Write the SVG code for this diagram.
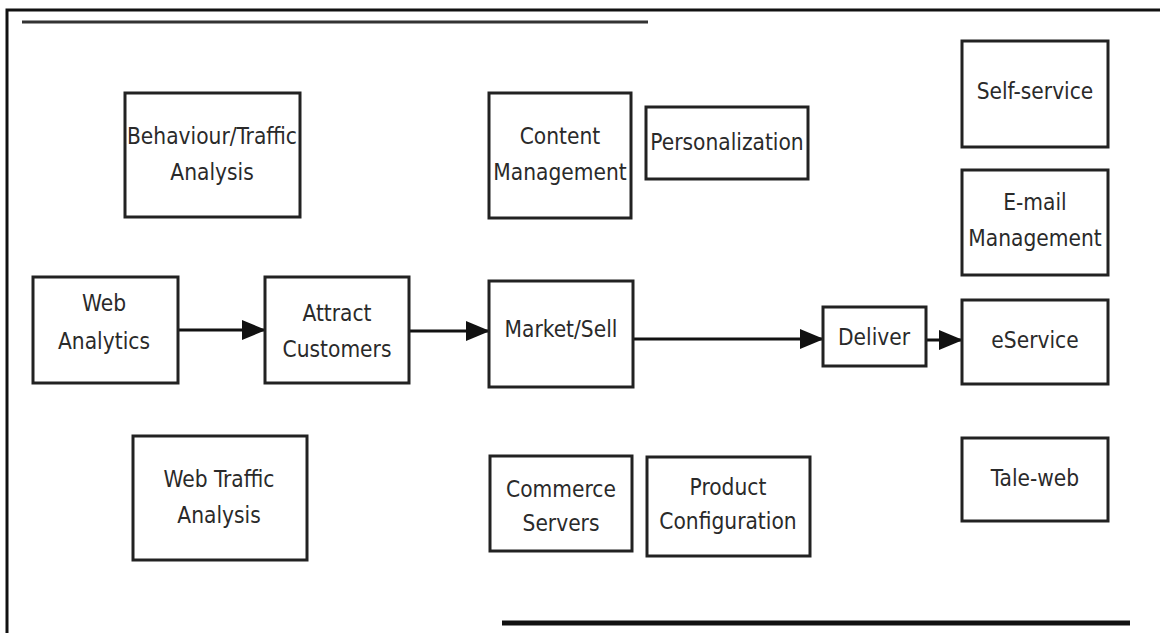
<svg xmlns="http://www.w3.org/2000/svg" width="1160" height="633" viewBox="0 0 1160 633">
  <style>
    .box { fill: #fff; stroke: #222; stroke-width: 3; }
    .lbl { font-family: "DejaVu Sans Condensed", "Open Sans", sans-serif; font-stretch: condensed; font-size: 22.5px; fill: #2a2a2a; text-anchor: middle; }
    .edge { stroke: #111; stroke-width: 3; fill: none; marker-end: url(#arrow); }
    .rule { stroke-linecap: butt; fill: none; }
  </style>
  <defs>
    <marker id="arrow" markerWidth="24" markerHeight="22" refX="23" refY="11" orient="auto" markerUnits="userSpaceOnUse">
      <path d="M0,1 L24,11 L0,21 Z" fill="#111"/>
    </marker>
  </defs>
  <rect width="1160" height="633" fill="#fff"/>

  <!-- page frame and rules -->
  <g id="frame">
    <polyline class="rule" points="7,633 7,10 1160,10" stroke="#111" stroke-width="3"/>
    <line class="rule" x1="22" y1="22" x2="648" y2="22" stroke="#333" stroke-width="3"/>
    <line class="rule" x1="502" y1="623" x2="1130" y2="623" stroke="#111" stroke-width="5"/>
  </g>

  <!-- connectors -->
  <g id="connectors">
    <line class="edge" x1="178" y1="330" x2="265" y2="330"/>
    <line class="edge" x1="409" y1="331" x2="489" y2="331"/>
    <line class="edge" x1="633" y1="339" x2="823" y2="339"/>
    <line class="edge" x1="926" y1="340" x2="962" y2="340"/>
  </g>

  <!-- nodes -->
  <g id="behaviour-traffic">
    <rect class="box" x="125" y="93" width="175" height="124"/>
    <text class="lbl" x="212" y="144">Behaviour/Traffic</text>
    <text class="lbl" x="212" y="180">Analysis</text>
  </g>
  <g id="content-management">
    <rect class="box" x="489" y="93" width="142" height="125"/>
    <text class="lbl" x="560" y="144">Content</text>
    <text class="lbl" x="560" y="180">Management</text>
  </g>
  <g id="personalization">
    <rect class="box" x="646" y="107" width="162" height="72"/>
    <text class="lbl" x="727" y="150">Personalization</text>
  </g>
  <g id="self-service">
    <rect class="box" x="962" y="41" width="146" height="106"/>
    <text class="lbl" x="1035" y="99">Self-service</text>
  </g>
  <g id="email-management">
    <rect class="box" x="962" y="170" width="146" height="105"/>
    <text class="lbl" x="1035" y="210">E-mail</text>
    <text class="lbl" x="1035" y="246">Management</text>
  </g>
  <g id="web-analytics">
    <rect class="box" x="33" y="277" width="145" height="106"/>
    <text class="lbl" x="104" y="311">Web</text>
    <text class="lbl" x="104" y="349">Analytics</text>
  </g>
  <g id="attract-customers">
    <rect class="box" x="265" y="277" width="144" height="106"/>
    <text class="lbl" x="337" y="321">Attract</text>
    <text class="lbl" x="337" y="357">Customers</text>
  </g>
  <g id="market-sell">
    <rect class="box" x="489" y="281" width="144" height="106"/>
    <text class="lbl" x="561" y="337">Market/Sell</text>
  </g>
  <g id="deliver">
    <rect class="box" x="823" y="307" width="103" height="59"/>
    <text class="lbl" x="874" y="345">Deliver</text>
  </g>
  <g id="eservice">
    <rect class="box" x="962" y="300" width="146" height="84"/>
    <text class="lbl" x="1035" y="348">eService</text>
  </g>
  <g id="web-traffic-analysis">
    <rect class="box" x="133" y="436" width="174" height="124"/>
    <text class="lbl" x="219" y="487">Web Traffic</text>
    <text class="lbl" x="219" y="523">Analysis</text>
  </g>
  <g id="commerce-servers">
    <rect class="box" x="490" y="456" width="142" height="95"/>
    <text class="lbl" x="561" y="497">Commerce</text>
    <text class="lbl" x="561" y="531">Servers</text>
  </g>
  <g id="product-configuration">
    <rect class="box" x="647" y="457" width="163" height="99"/>
    <text class="lbl" x="728" y="495">Product</text>
    <text class="lbl" x="728" y="529">Configuration</text>
  </g>
  <g id="tale-web">
    <rect class="box" x="962" y="438" width="146" height="83"/>
    <text class="lbl" x="1035" y="486">Tale-web</text>
  </g>
</svg>
